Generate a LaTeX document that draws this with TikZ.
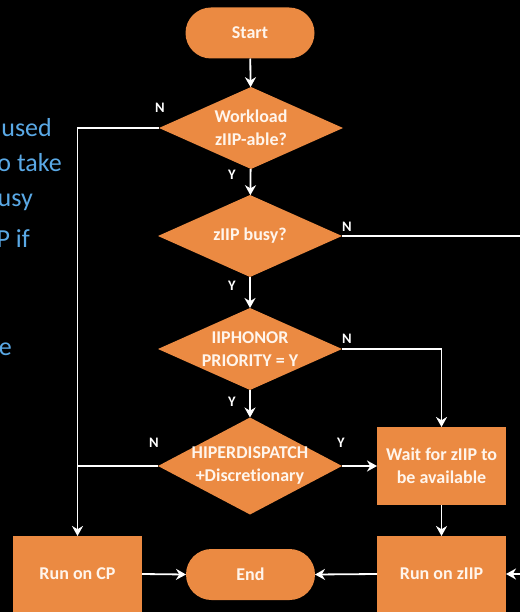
\documentclass[tikz,border=0pt]{standalone}
\usepackage{fontspec}
\setmainfont{Carlito}[Ligatures=NoCommon]
\usepackage{xcolor}
\definecolor{flowOrange}{HTML}{EB8A42}
\definecolor{slideBlue}{HTML}{5AA9E6}
\definecolor{boxText}{HTML}{FFF5EC}
\usetikzlibrary{shapes.geometric, shapes.misc, arrows.meta, positioning}

\begin{document}
\begin{tikzpicture}[
    x=1pt, y=-1pt,
    >={Stealth[length=10pt, width=11pt]},
    terminal/.style={
        rounded rectangle,
        fill=flowOrange,
        minimum width=129pt,
        minimum height=51pt,
        inner sep=0pt,
        outer sep=0pt,
        text=boxText,
        font=\bfseries\fontsize{18}{23}\selectfont
    },
    decision/.style={
        diamond,
        fill=flowOrange,
        minimum width=184pt,
        minimum height=82pt,
        inner sep=-40pt,
        outer sep=0pt,
        align=center,
        text=boxText,
        font=\bfseries\fontsize{18}{23}\selectfont
    },
    process/.style={
        rectangle,
        fill=flowOrange,
        minimum width=129pt,
        minimum height=78pt,
        inner sep=0pt,
        outer sep=0pt,
        align=center,
        text=boxText,
        font=\bfseries\fontsize{18}{23}\selectfont
    },
    flowArrow/.style={
        ->,
        line width=1.8pt,
        draw=white
    },
    flowLine/.style={
        line width=1.8pt,
        draw=white
    },
    branchLabel/.style={
        text=white,
        inner sep=0pt,
        font=\bfseries\fontsize{14.5}{16}\selectfont
    },
    slideText/.style={
        anchor=base east,
        inner sep=0pt,
        text=slideBlue,
        font=\fontsize{26}{30}\selectfont
    }
]

% Canvas
\useasboundingbox (0,0) rectangle (520,612);
\clip (0,0) rectangle (520,612);
\fill[black] (0,0) rectangle (520,612);

% Slide text cut at the left edge
\node[slideText] (txtUsed) at (52,137) {used};
\node[slideText] (txtTake) at (62,172) {o take};
\node[slideText] (txtBusy) at (33,207) {usy};
\node[slideText] (txtIf) at (30,247) {P if};
\node[slideText] (txtE) at (12,355) {e};

% Terminals
\node[terminal] (start) at (250,33) {Start};
\node[terminal] (stop) at (250.5,574.5) {End};

% Decisions
\node[decision] (workload) at (251,128) {Workload\\zIIP-able?};
\node[decision] (busy) at (250,236) {zIIP busy?};
\node[decision] (honor) at (250,349) {IIPHONOR\\PRIORITY = Y};
\node[decision, minimum height=97pt] (hiper) at (250,466) {HIPERDISPATCH\\+Discretionary};

% Processes
\node[process] (wait) at (441.5,466) {Wait for zIIP to\\be available};
\node[process, minimum height=76pt] (runZiip) at (441.5,574) {Run on zIIP};
\node[process, minimum height=76pt] (runCp) at (77.5,574) {Run on CP};

% Branch labels
\node[branchLabel] (nWorkload) at (160,108) {N};
\node[branchLabel] (yWorkload) at (232,175) {Y};
\node[branchLabel] (nBusy) at (347,227) {N};
\node[branchLabel] (yBusy) at (232,286) {Y};
\node[branchLabel] (nHonor) at (347,339) {N};
\node[branchLabel] (yHonor) at (232,402) {Y};
\node[branchLabel] (nHiper) at (154,443) {N};
\node[branchLabel] (yHiper) at (341,443) {Y};

% Connecting Arrows
\draw[flowArrow] (start) -- (workload);
\draw[flowArrow] (workload) -- (busy);
\draw[flowArrow] (busy) -- (honor);
\draw[flowArrow] (honor) -- (hiper);
\draw[flowArrow] (workload.west) -| (runCp.north);
\draw[flowLine] (hiper.west) -- (hiper.west -| runCp.north);
\draw[flowArrow] (hiper.east) -- (wait.west);
\draw[flowArrow] (honor.east) -| (wait.north);
\draw[flowArrow] (busy.east) -- ++(190,0) |- (runZiip.east);
\draw[flowArrow] (wait.south) -- (runZiip.north);
\draw[flowArrow] (runCp.east) -- (stop.west);
\draw[flowArrow] (runZiip.west) -- (stop.east);

\end{tikzpicture}
\end{document}
